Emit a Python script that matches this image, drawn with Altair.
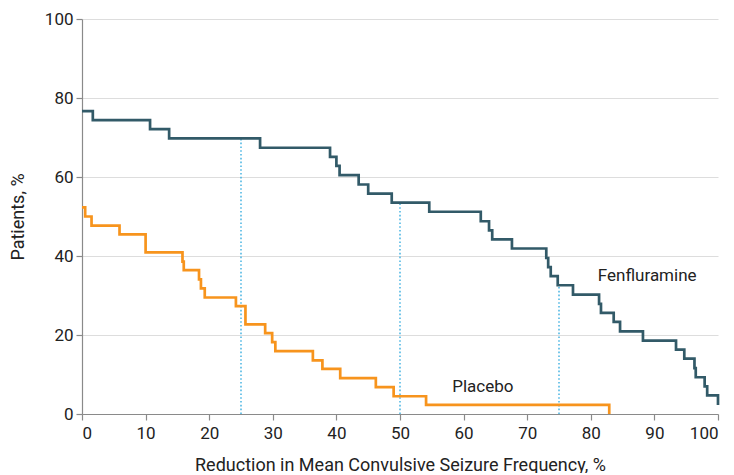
import altair as alt
import pandas as pd

# Fenfluramine step curve (x = reduction %, y = patients %)
fen_x = [0, 1.7, 10.7, 13.7, 28.0, 39.0, 40.0, 40.5, 43.5, 45.0, 48.7, 54.6, 62.7,
         64.0, 64.5, 67.6, 73.0, 73.3, 73.7, 74.8, 77.2, 81.3, 81.6, 83.6, 84.6,
         88.2, 93.4, 94.7, 96.3, 96.5, 97.9, 98.3, 100]
fen_y = [76.7, 74.4, 72.1, 69.8, 67.4, 65.1, 62.8, 60.5, 58.1, 55.8, 53.5, 51.2, 48.8,
         46.5, 44.2, 41.9, 39.5, 37.2, 34.9, 32.6, 30.2, 27.9, 25.6, 23.3, 20.9,
         18.6, 16.3, 14.0, 11.6, 9.3, 7.0, 4.7, 2.3]

# Placebo step curve
pla_x = [0, 0.5, 1.5, 5.9, 10.0, 15.8, 16.0, 18.4, 18.7, 19.3, 24.2, 25.7, 28.8,
         29.9, 30.4, 36.3, 37.8, 40.6, 46.2, 49.0, 54.1, 82.9]
pla_y = [52.3, 50.0, 47.7, 45.5, 40.9, 38.6, 36.4, 34.1, 31.8, 29.5, 27.3, 22.7, 20.5,
         18.2, 15.9, 13.6, 11.4, 9.1, 6.8, 4.5, 2.3, 0.0]

# Dotted reference lines at 25%, 50%, 75% reduction
ref_x = [25, 50, 75]
ref_top = [69.8, 53.5, 32.6]

# Series labels
lab_text = ["Fenfluramine", "Placebo"]
lab_x = [81.1, 58.2]
lab_y = [34.9, 6.8]

x_ticks = list(range(0, 101, 10))
y_ticks = list(range(0, 101, 20))

FONT = "Roboto"

curves = pd.concat([
    pd.DataFrame({"x": fen_x, "y": fen_y, "group": "Fenfluramine"}),
    pd.DataFrame({"x": pla_x, "y": pla_y, "group": "Placebo"}),
])
refs = pd.DataFrame({"x": ref_x, "y0": [0] * len(ref_x), "y1": ref_top})
labels = pd.DataFrame({"t": lab_text, "x": lab_x, "y": lab_y})

xscale = alt.Scale(domain=[0, 100], nice=False)
yscale = alt.Scale(domain=[0, 100], nice=False)

xaxis = alt.Axis(values=x_ticks, grid=False, title="Reduction in Mean Convulsive Seizure Frequency, %",
                 titleY=56, titleBaseline="alphabetic", labelPadding=5)
yaxis = alt.Axis(values=y_ticks, grid=True, title="Patients, %", titleX=-55, titleY=197.5,
                 titleAngle=270, titleAlign="center", titleBaseline="bottom", labelPadding=3)

rules = alt.Chart(refs).mark_rule(color="#3AAEE0", strokeDash=[1.6, 2.2], strokeWidth=1.4).encode(
    x=alt.X("x:Q", scale=xscale, axis=xaxis),
    y=alt.Y("y0:Q", scale=yscale, axis=yaxis),
    y2="y1:Q",
)

lines = alt.Chart(curves).mark_line(interpolate="step-after", strokeWidth=2.7).encode(
    x=alt.X("x:Q", scale=xscale),
    y=alt.Y("y:Q", scale=yscale),
    color=alt.Color("group:N", scale=alt.Scale(domain=["Fenfluramine", "Placebo"],
                                               range=["#325A68", "#F7941D"]), legend=None),
)

texts = alt.Chart(labels).mark_text(align="left", baseline="middle", fontSize=17,
                                     font=FONT, color="#222222").encode(
    x=alt.X("x:Q", scale=xscale),
    y=alt.Y("y:Q", scale=yscale),
    text="t:N",
)

chart = alt.layer(rules, lines, texts).properties(
    width=636, height=395,
    autosize=alt.AutoSizeParams(type="none"),
    padding={"left": 74, "top": 11, "right": 8, "bottom": 59},
).configure_view(stroke=None).configure_axis(
    domainColor="#8a8a8a", tickColor="#8a8a8a", tickSize=6, domainWidth=1.2, tickWidth=1.2,
    gridColor="#dddddd", gridWidth=1,
    labelFont=FONT, labelFontSize=17, labelColor="#222222",
    titleFont=FONT, titleFontSize=18, titleFontWeight="normal", titleColor="#222222",
)

chart.save("out.html", embed_options={"renderer": "svg", "actions": False})
